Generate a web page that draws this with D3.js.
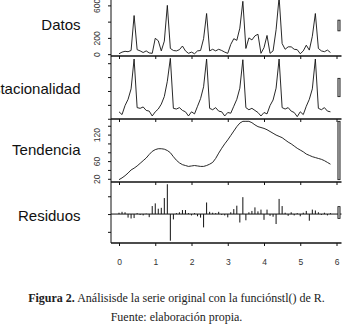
<!DOCTYPE html>
<html>
<head>
<meta charset="utf-8">
<script src="https://cdn.jsdelivr.net/npm/d3@7/dist/d3.min.js"></script>
<style>
  body { margin: 0; background: #fff; }
</style>
</head>
<body>
<svg width="350" height="333" id="mainsvg"></svg>
<script>
const datos = [
  5, 25, 35, 30, 45, 475, 55, 40, 20, 40, 15, 10,
  195, 165, 40, 160, 600, 70, 45, 40, 55, 100, 40, 10,
  25, 5, 40, 45, 190, 500, 40, 60, 40, 60, 45, 25,
  10, 120, 190, 170, 320, 650, 70, 200, 175, 225, 245, 10,
  80, 230, 10, 40, 300, 700, 130, 60, 90, 90, 60, 55,
  5, 40, 110, 50, 220, 500, 70, 40, 30, 50, 20
];
const estacionalidad = [
  -50, -70, -5, 40, 115, 330, -20, -25, -15, -40, -45, -80,
  -50, -30, 5, 60, 170, 335, -25, -30, -20, -40, -50, -80,
  -50, -65, -10, 45, 130, 330, -25, -35, -20, -45, -50, -80,
  -55, -60, -10, 40, 120, 325, -20, -35, -25, -40, -55, -80,
  -55, -65, -5, 35, 120, 330, -20, -30, -20, -45, -55, -85,
  -50, -70, -10, 40, 115, 330, -25, -35, -20, -45, -50
];
const tendencia = [
  18, 22, 27, 33, 40, 44, 49, 55, 61, 67, 75, 82,
  86, 88, 88, 87, 84, 79, 70, 62, 56, 52, 50, 48,
  49, 50, 49, 48, 48, 50, 53, 57, 66, 78, 89, 99,
  108, 118, 128, 138, 146, 150, 150, 150, 147, 142, 138, 136,
  134, 131, 127, 123, 119, 116, 113, 108, 103, 99, 94, 89,
  85, 81, 76, 73, 70, 68, 66, 64, 61, 57, 53
];
const residuos = [
  15, 25, 20, -40, -50, -45, 10, -10, -15, 5, -35, 90,
  120, 60, 70, 180, 335, -300, -60, 10, 20, 45, 45, 10,
  -15, 10, -25, -40, -150, 130, 25, 15, 10, 25, -10, -15,
  -37, 20, 56, 94, -95, 190, -70, 20, 35, 75, 30, 50,
  -65, 50, -20, -30, -112, 170, 90, 15, -20, 20, -15, 10,
  -25, 15, 35, -75, 50, 40, 20, -10, 15, -15, 10
];

const panelNames = ['Datos', 'Estacionalidad', 'Tendencia', 'Residuos'];
const panelTicks = [[0, 200, 400, 600], [-100, 0, 100, 200, 300], [20, 40, 60, 80, 100, 120, 140], [-200, 0, 200]];
const panelTickLabels = [['0', '200', '', '600'], [], ['20', '', '60', '', '', '120', ''], []];
const xTicks = [0, 1, 2, 3, 4, 5, 6];
const captionBold = 'Figura 2.';
const captionRest = ' Análisisde la serie original con la funciónstl() de R.';
const captionSource = 'Fuente: elaboración propia.';

// layout
const svg = d3.select('#mainsvg');
const boxLeft = 111, boxRight = 341.5;
const panelEdges = [-5, 56, 119, 182, 243];
const labelBaselines = [30, 94, 155, 221];
const ink = '#111';
const sans = "'Liberation Sans', Arial, sans-serif";

const xScale = d3.scaleLinear().domain([0, 6]).range([119, 336.5]);
const tOf = i => i / 12;

const allSeries = [datos, estacionalidad, tendencia, residuos];
// range bars all stand for the same data length (the smallest range), like plot.stl
const barLen = d3.min(allSeries, s => d3.max(s) - d3.min(s));
const dx = (boxRight - boxLeft) / 64;

allSeries.forEach((s, p) => {
  const [lo, hi] = d3.extent(s);
  const pad = (hi - lo) * 0.04;
  const top = panelEdges[p], bottom = panelEdges[p + 1];
  const yScale = d3.scaleLinear().domain([lo - pad, hi + pad]).range([bottom, top]);
  const g = svg.append('g');

  if (p < 3) {
    const line = d3.line().x((d, i) => xScale(tOf(i))).y(d => yScale(d));
    g.append('path').datum(s).attr('d', line)
      .attr('fill', 'none').attr('stroke', ink).attr('stroke-width', 0.9);
  } else {
    g.append('line').attr('x1', boxLeft).attr('x2', boxRight)
      .attr('y1', yScale(0)).attr('y2', yScale(0)).attr('stroke', ink).attr('stroke-width', 1);
    g.selectAll('.resBar').data(s).join('line').attr('class', 'resBar')
      .attr('x1', (d, i) => xScale(tOf(i))).attr('x2', (d, i) => xScale(tOf(i)))
      .attr('y1', yScale(0)).attr('y2', d => yScale(d))
      .attr('stroke', ink).attr('stroke-width', 1);
  }

  // range bar on the right
  const mid = (lo + hi) / 2;
  g.append('rect')
    .attr('x', boxRight - dx).attr('width', 0.6 * dx)
    .attr('y', yScale(mid + barLen / 2))
    .attr('height', yScale(mid - barLen / 2) - yScale(mid + barLen / 2))
    .attr('fill', '#bebebe').attr('stroke', ink).attr('stroke-width', 0.8);

  // frame: left side and bottom of the panel
  g.append('line').attr('x1', boxLeft).attr('x2', boxLeft).attr('y1', top).attr('y2', bottom)
    .attr('stroke', ink).attr('stroke-width', 1);
  g.append('line').attr('x1', boxLeft).attr('x2', boxRight).attr('y1', bottom).attr('y2', bottom)
    .attr('stroke', ink).attr('stroke-width', 1.3);

  // left axis, labels rotated like R's las = 0
  const yAxis = d3.axisLeft(yScale).tickValues(panelTicks[p]).tickSize(3)
    .tickFormat((d, i) => panelTickLabels[p][i] || '');
  const ya = svg.append('g').attr('transform', `translate(${boxLeft},0)`)
    .attr('color', ink).call(yAxis);
  ya.select('.domain').remove();
  ya.selectAll('text').attr('x', 0).attr('dy', null)
    .attr('transform', 'translate(-11.5,0) rotate(-90)')
    .attr('text-anchor', 'middle')
    .attr('font-family', sans).attr('font-size', 8.5).attr('fill', '#333');

  // time ticks under every panel, numbers only on the last one
  const xAxis = d3.axisBottom(xScale).tickValues(xTicks).tickSize(3)
    .tickFormat(p === 3 ? d3.format('d') : () => '');
  const xa = svg.append('g').attr('transform', `translate(0,${bottom})`)
    .attr('color', ink).call(xAxis);
  xa.select('.domain').remove();
  xa.selectAll('text').attr('y', 15.5).attr('dy', '0.71em')
    .attr('font-family', sans).attr('font-size', 8.5).attr('fill', '#333');

  // panel name
  svg.append('text').text(panelNames[p])
    .attr('x', 80.5).attr('y', labelBaselines[p])
    .attr('text-anchor', 'end')
    .attr('font-family', sans).attr('font-size', 15).attr('fill', ink);
});

// caption
const cap = svg.append('g').attr('font-family', "'Liberation Serif', 'Times New Roman', serif")
  .attr('font-size', 12).attr('fill', '#222').attr('text-anchor', 'middle');
const line1 = cap.append('text').attr('x', 176.5).attr('y', 302);
line1.append('tspan').attr('font-weight', 'bold').text(captionBold);
line1.append('tspan').text(captionRest);
cap.append('text').attr('x', 176.5).attr('y', 321).text(captionSource);
</script>
</body>
</html>
